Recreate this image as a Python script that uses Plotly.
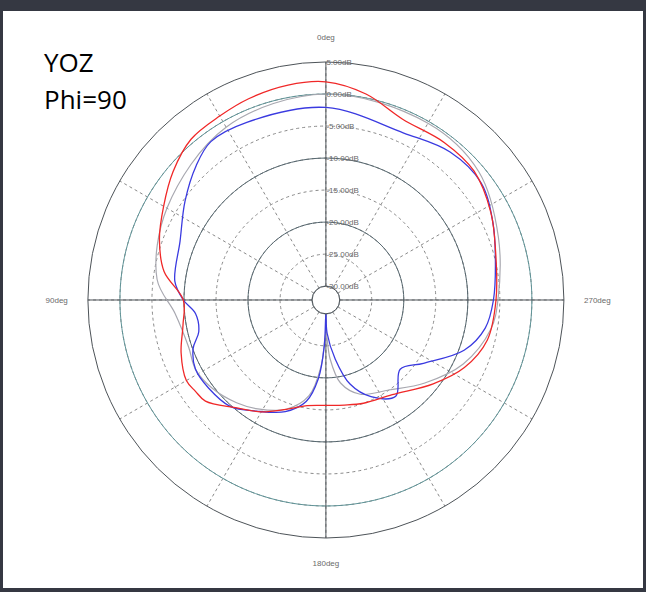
import plotly.graph_objects as go

# radial grid / tick values (dB)
r_ticks = [-30, -25, -20, -15, -10, -5, 0, 5]
r_labels = ['%.2fdB' % v for v in r_ticks]
solid_rings = [-30, -20, -10]
teal_ring = 0

# angular ticks
theta_ticks = list(range(0, 360, 30))
theta_labels = {0: '0deg', 90: '90deg', 180: '180deg', 270: '270deg'}

# red curve
red_theta = [0, 10, 21, 30, 40, 50, 60, 70, 80, 90, 100, 110, 120, 125, 130, 140, 150, 160, 170,
             180, 190, 200, 215, 232, 244, 256, 270, 286, 298, 311, 323, 337, 349, 360]
red_r = [1.9, 1.9, 1.5, 1.0, 0.6, -1.0, -2.9, -4.5, -6.5, -9.9, -9.5, -8.1, -7.0, -7.3, -7.6, -10.2,
         -12.0, -14.0, -15.4, -15.7, -15.5, -15.0, -14.1, -10.9, -8.1, -6.2, -5.6, -4.6, -3.0, -1.5,
         -1.4, -1.5, 0.6, 1.9]

# blue curve
blue_theta = [0, 24, 36, 44, 55, 68, 83, 90, 96, 104, 110, 118, 127, 138, 148, 160, 169, 174.5,
              178, 180, 182, 189, 196, 205, 216, 227, 237, 250, 260, 270, 283, 295, 307, 320, 335, 360]
blue_r = [-2.1, -1.8, -1.6, -3.0, -5.3, -7.6, -8.4, -9.9, -11.7, -11.7, -10.1, -9.1, -9.25, -9.8,
          -11.7, -13.6, -16.0, -19.8, -25.0, -30.0, -27.0, -22.8, -18.5, -15.5, -13.6, -16.3, -14.0,
          -9.2, -6.9, -6.0, -5.0, -3.4, -1.8, -2.0, -3.4, -2.1]

# gray curve
gray_theta = [0, 30, 60, 83, 95, 109, 118, 128, 139, 148, 160, 170, 176, 180, 184, 190, 200, 215,
              230, 245, 260, 270, 290, 310, 330, 360]
gray_r = [0.0, -1.0, -3.5, -5.6, -8.5, -9.5, -9.1, -9.7, -10.9, -12.1, -14.0, -17.0, -22.0, -27.0,
          -23.0, -19.0, -16.5, -15.0, -12.0, -8.5, -6.0, -5.3, -3.5, -1.0, -0.3, 0.0]

ring_theta = list(range(0, 361, 2))

fig = go.Figure()

# solid grid rings
for v in solid_rings:
    fig.add_trace(go.Scatterpolar(r=[v] * len(ring_theta), theta=ring_theta, mode='lines',
                                  line=dict(color='#55666e', width=1), hoverinfo='skip', showlegend=False))
fig.add_trace(go.Scatterpolar(r=[teal_ring] * len(ring_theta), theta=ring_theta, mode='lines',
                              line=dict(color='#5f9498', width=1), hoverinfo='skip', showlegend=False))
# solid main spokes
for t in [0, 90, 180, 270]:
    fig.add_trace(go.Scatterpolar(r=[r_ticks[0], r_ticks[-1]], theta=[t, t], mode='lines',
                                  line=dict(color='#4d5358', width=1), hoverinfo='skip', showlegend=False))

fig.add_trace(go.Scatterpolar(r=gray_r, theta=gray_theta, mode='lines', line=dict(color='#a8a8b0', width=1.2),
                              line_shape='spline', showlegend=False))
fig.add_trace(go.Scatterpolar(r=blue_r, theta=blue_theta, mode='lines', line=dict(color='#3a3ae0', width=1.3),
                              line_shape='spline', showlegend=False))
fig.add_trace(go.Scatterpolar(r=red_r, theta=red_theta, mode='lines', line=dict(color='#f02828', width=1.3),
                              line_shape='spline', showlegend=False))

fig.update_layout(
    width=646, height=592,
    margin=dict(l=0, r=0, t=0, b=0),
    paper_bgcolor='#353842',
    plot_bgcolor='white',
    showlegend=False,
    polar=dict(
        domain=dict(x=[0.136, 0.873], y=[0.0912, 0.8953]),
        bgcolor='white',
        hole=0.058,
        radialaxis=dict(range=[-30, 5], tickvals=r_ticks, ticktext=r_labels, angle=90, tickangle=90,
                        showline=False, ticks='', showgrid=True, gridcolor='#8a8a8a', griddash='dot',
                        gridwidth=1, tickfont=dict(family='Liberation Sans', size=8, color='#6a6a6a')),
        angularaxis=dict(rotation=90, direction='counterclockwise', tickvals=theta_ticks,
                         ticktext=[theta_labels.get(t, '') for t in theta_ticks],
                         showline=True, linecolor='#4d5358', linewidth=1,
                         showgrid=True, gridcolor='#8a8a8a', griddash='dot', gridwidth=1,
                         ticks='outside', ticklen=18, tickcolor='rgba(0,0,0,0)',
                         tickfont=dict(family='Liberation Sans', size=8, color='#6a6a6a')),
    ),
    shapes=[dict(type='rect', xref='paper', yref='paper', x0=3 / 646, x1=643 / 646,
                 y0=4 / 592, y1=581 / 592, fillcolor='white', line=dict(width=0), layer='below')],
    annotations=[
        dict(text='YOZ', x=42 / 646, y=1 - 62 / 592, xref='paper', yref='paper', xanchor='left',
             yanchor='middle', showarrow=False, font=dict(family='Open Sans', size=26, color='black')),
        dict(text='Phi=90', x=42 / 646, y=1 - 99 / 592, xref='paper', yref='paper', xanchor='left',
             yanchor='middle', showarrow=False, font=dict(family='Open Sans', size=26, color='black')),
    ],
)

# page body has an 8px default margin; drop it so the figure fills the window
fig.write_html('out.html', config={'displayModeBar': False},
               post_script="document.body.style.margin='0';document.body.style.overflow='hidden';")
